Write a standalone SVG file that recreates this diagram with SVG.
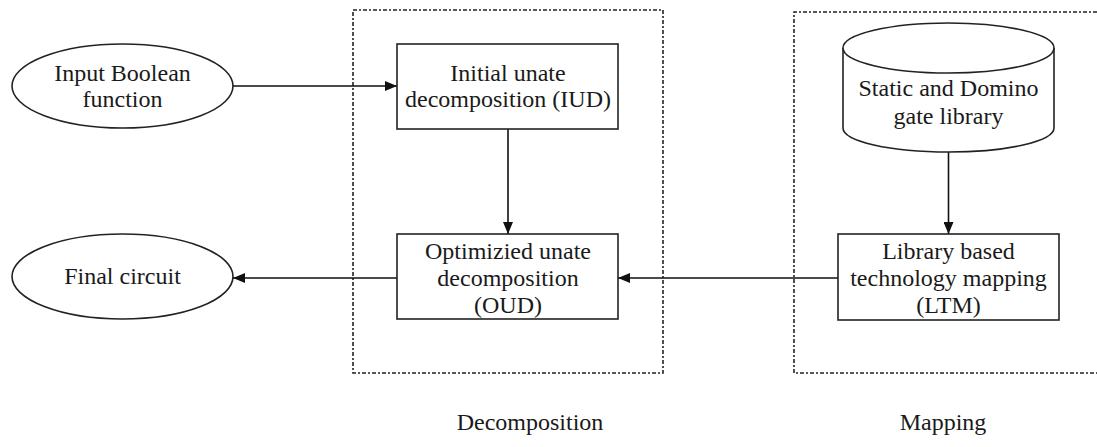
<svg xmlns="http://www.w3.org/2000/svg" width="1097" height="447" viewBox="0 0 1097 447">
<style>
.box{fill:#fff;stroke:#222;stroke-width:1.6}
.grp{fill:none;stroke:#222;stroke-width:1.6;stroke-dasharray:4 2 2 2}
.t{font-family:"Liberation Serif","Times New Roman",serif;font-size:24px;fill:#1a1a1a;text-anchor:middle}
.c{stroke:#111;stroke-width:1.6;fill:none;marker-end:url(#ah)}
</style>
<defs>
<marker id="ah" viewBox="0 0 12 10" refX="12" refY="5" markerWidth="12" markerHeight="10" markerUnits="userSpaceOnUse" orient="auto">
<path d="M0,0 L12,5 L0,10 Z" fill="#111"/>
</marker>
</defs>
<rect width="1097" height="447" fill="#fff"/>
<g id="decomposition-group">
<rect class="grp" x="353" y="10" width="310" height="363"/>
<text class="t" x="530" y="430">Decomposition</text>
</g>
<g id="mapping-group">
<path class="grp" d="M1097,12 H794 V373 H1097"/>
<text class="t" x="943" y="430">Mapping</text>
</g>
<g id="connectors">
<line class="c" x1="233" y1="86" x2="397" y2="86"/>
<line class="c" x1="508" y1="129" x2="508" y2="234"/>
<line class="c" x1="948.5" y1="152" x2="948.5" y2="234"/>
<line class="c" x1="838" y1="278" x2="618" y2="278"/>
<line class="c" x1="397" y1="278" x2="233" y2="278"/>
</g>
<g id="input">
<ellipse class="box" cx="122.5" cy="86" rx="110.5" ry="42"/>
<text class="t" x="122.5" y="81">Input Boolean</text>
<text class="t" x="122.5" y="107">function</text>
</g>
<g id="final">
<ellipse class="box" cx="122.5" cy="276.5" rx="110.5" ry="42.5"/>
<text class="t" x="122.5" y="284">Final circuit</text>
</g>
<g id="iud">
<rect class="box" x="397" y="44" width="221" height="85"/>
<text class="t" x="508" y="81">Initial unate</text>
<text class="t" x="508" y="107">decomposition (IUD)</text>
</g>
<g id="oud">
<rect class="box" x="397" y="234" width="221" height="85"/>
<text class="t" x="508" y="259">Optimizied unate</text>
<text class="t" x="508" y="286">decomposition</text>
<text class="t" x="508" y="313">(OUD)</text>
</g>
<g id="library">
<path class="box" d="M843,48 V128 A105.5,24 0 0 0 1054,128 V48"/>
<ellipse class="box" cx="948.5" cy="48" rx="105.5" ry="25"/>
<text class="t" x="948.5" y="96">Static and Domino</text>
<text class="t" x="948.5" y="124">gate library</text>
</g>
<g id="ltm">
<rect class="box" x="838" y="234" width="221" height="86"/>
<text class="t" x="948.5" y="259">Library based</text>
<text class="t" x="948.5" y="286">technology mapping</text>
<text class="t" x="948.5" y="313">(LTM)</text>
</g>
</svg>
